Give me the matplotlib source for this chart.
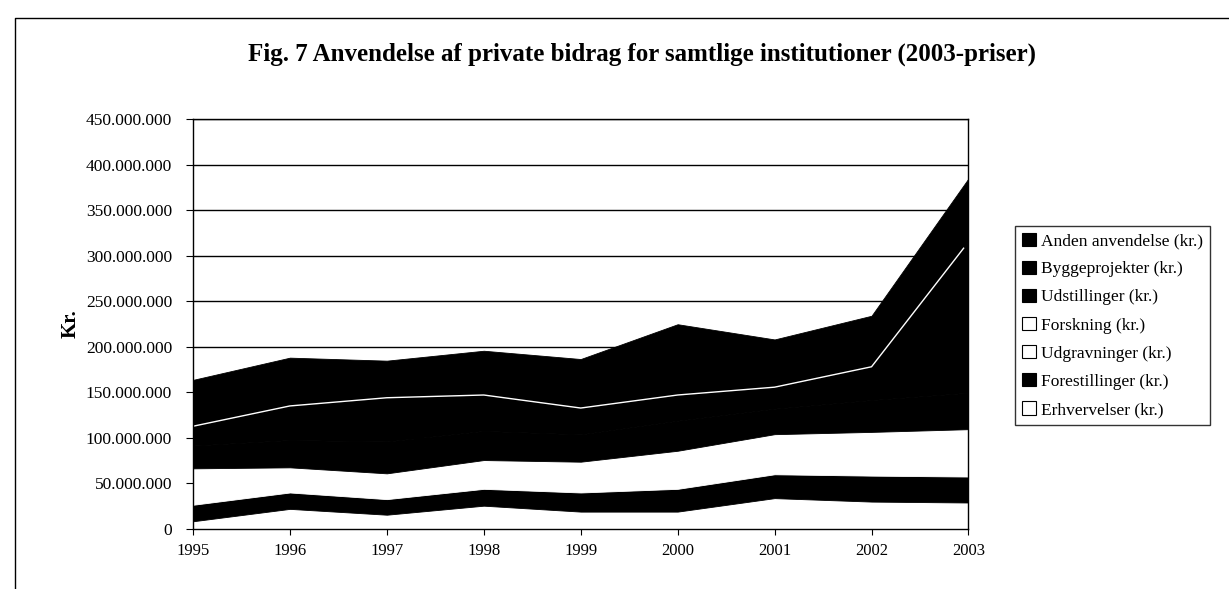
import numpy as np
import matplotlib.pyplot as plt
from matplotlib.ticker import FuncFormatter
from matplotlib.patches import Patch

plt.rcParams['font.family'] = ['Liberation Serif', 'DejaVu Serif']

years = [1995, 1996, 1997, 1998, 1999, 2000, 2001, 2002, 2003]

# values in mio. kr. (2003-priser)
erhvervelser   = [8.4, 22.0, 15.6, 25.5, 19.0, 19.0, 33.8, 30.0, 29.0]
forestillinger = [18.1, 18.0, 17.1, 18.5, 21.0, 25.0, 26.2, 28.5, 28.5]
udgravninger   = [2.0, 2.0, 2.0, 2.0, 2.0, 2.0, 2.0, 2.5, 3.5]
forskning      = [38.0, 25.6, 26.3, 29.6, 31.8, 39.8, 42.0, 45.5, 48.5]
udstillinger   = [25.0, 30.0, 35.0, 32.0, 30.0, 33.0, 28.0, 35.0, 40.0]
byggeprojekter = [21.2, 37.4, 48.0, 39.4, 28.9, 28.2, 23.6, 36.5, 165.5]
anden          = [50.9, 53.0, 40.7, 48.6, 53.8, 77.7, 52.4, 56.0, 69.7]

labels = ["Erhvervelser (kr.)", "Forestillinger (kr.)", "Udgravninger (kr.)",
          "Forskning (kr.)", "Udstillinger (kr.)", "Byggeprojekter (kr.)",
          "Anden anvendelse (kr.)"]
colors = ["white", "black", "white", "white", "black", "black", "black"]

series = np.array([erhvervelser, forestillinger, udgravninger, forskning,
                   udstillinger, byggeprojekter, anden]) * 1e6

fig = plt.figure(figsize=(12.29, 5.89), dpi=100)
ax = fig.add_axes([0.157, 0.102, 0.631, 0.696])

polys = ax.stackplot(years, series, colors=colors, zorder=2)
for p, c in zip(polys, colors):
    p.set_edgecolor(c)
    p.set_linewidth(0.6)

# white seam between the dark bands
seam = series[:6].sum(axis=0)
ax.plot(years[:-1] + [2002.95], list(seam[:-1]) + [seam[-2] + (seam[-1] - seam[-2]) * 0.95],
        color="white", lw=1.0, zorder=3)

ax.set_xlim(1995, 2003)
ax.set_ylim(0, 450e6)
ax.set_yticks(np.arange(0, 450e6 + 1, 50e6))
ax.set_xticks(years)
ax.yaxis.set_major_formatter(FuncFormatter(lambda v, p: f"{int(v):,}".replace(",", ".")))
ax.grid(axis="y", color="black", lw=1.0, zorder=1)
ax.set_axisbelow(True)
for s in ax.spines.values():
    s.set_color("black")
    s.set_linewidth(1.0)
    s.set_zorder(4)
ax.tick_params(axis="y", labelsize=12.5, length=5, pad=10, color="black")
ax.tick_params(axis="x", labelsize=12, length=4, pad=6, color="black")
ax.set_ylabel("Kr.", fontsize=15, fontweight="bold", labelpad=4)

fig.text(0.522, 0.908, "Fig. 7 Anvendelse af private bidrag for samtlige institutioner (2003-priser)",
         ha="center", va="center", fontsize=18, fontweight="bold")

handles = [Patch(facecolor=c, edgecolor="black", lw=0.8) for c in colors]
leg = fig.legend(handles[::-1], labels[::-1], loc="upper left",
                 bbox_to_anchor=(0.826, 0.617), fontsize=12.5, frameon=True,
                 fancybox=False, edgecolor="black", labelspacing=0.66,
                 handlelength=0.8, handleheight=0.8, handletextpad=0.3,
                 borderpad=0.4, borderaxespad=0)
leg.get_frame().set_linewidth(1.0)

# outer frame of the scanned figure
fig.add_artist(plt.Line2D([0.0122, 0.0122, 1.0], [0.0, 0.969, 0.969],
                          transform=fig.transFigure, color="black", lw=1.0))

fig.savefig("out.png", dpi=100)
